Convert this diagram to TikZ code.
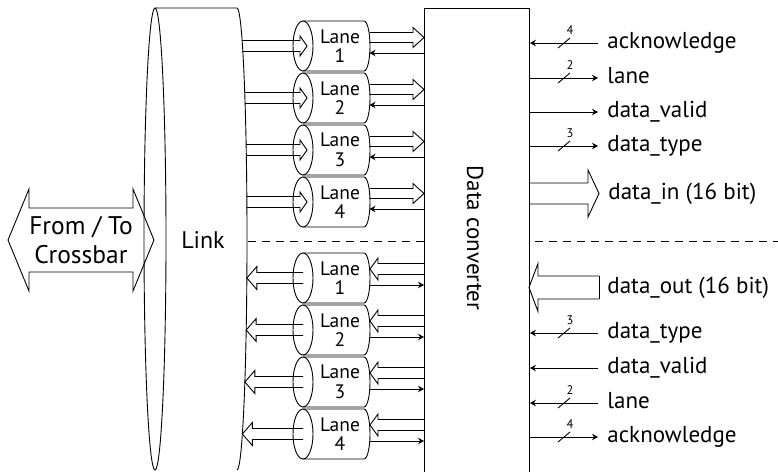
\documentclass[tikz,border=0pt]{standalone}
\usepackage{fontspec}
\setmainfont{PT Sans}
\usetikzlibrary{arrows.meta}
\newcommand\hollowR[6]{% x1, tip x, yc, shaft half, head half, head length
  \draw (#1,#3-#4) -- (#2-#6,#3-#4) -- (#2-#6,#3-#5) -- (#2,#3) -- (#2-#6,#3+#5) -- (#2-#6,#3+#4) -- (#1,#3+#4);}
\newcommand\hollowL[6]{% tip x, x2, yc, shaft half, head half, head length
  \draw (#2,#3-#4) -- (#1+#6,#3-#4) -- (#1+#6,#3-#5) -- (#1,#3) -- (#1+#6,#3+#5) -- (#1+#6,#3+#4) -- (#2,#3+#4);}
\newcommand\lanecyl[3]{% yc, number, name
  \draw (303,#1) ellipse [x radius=10, y radius=25];
  \draw (303,#1-25) -- (364,#1-25) arc [start angle=-90, end angle=90, x radius=6, y radius=25] -- (303,#1+25);
  \node[lanetxt] (#3) at (340,#1) {Lane\\#2};
  \coordinate (#3-r) at (369.5,#1+7);}
\newcommand\upperlane[3]{%
  \lanecyl{#1}{#2}{#3}
  \pgfmathsetmacro\lx{237+10*sqrt(1-((#1-239)/231)^2)}
  \hollowR{\lx}{307}{#1}{5.5}{10}{7}
  \hollowR{369.5}{424}{#1-8.5}{5}{10}{11}
  \draw[thinarr] (conv.west |- #3-r) -- (#3-r);}
\newcommand\lowerlane[3]{%
  \lanecyl{#1}{#2}{#3}
  \pgfmathsetmacro\lx{237+10*sqrt(1-((#1-239)/231)^2)}
  \hollowL{\lx}{303}{#1}{5.5}{11.5}{10}
  \hollowL{370}{424}{#1-9}{5.5}{11}{8}
  \draw[thinarr] (#3-r) -- (conv.west |- #3-r);}
\newcommand\sig[6]{% y, name, text, direction (in/out), bus width, has slash
  \coordinate (#2-e) at (598,#1);
  \node[sigtxt] (#2) at (607,#1) {#3};
  \ifx#4i\draw[thinarr] (#2-e) -- (conv.east |- #2-e);\else\draw[thinarr] (conv.east |- #2-e) -- (#2-e);\fi
  \ifx#6y\draw (558,#1+5) -- (570,#1-5);\node[small] at (570,#1-13) {#5};\fi}
\begin{document}
\begin{tikzpicture}[x=1pt,y=-1pt,line width=0.9pt,
  thinarr/.style={-{Stealth[length=6pt,width=6.5pt,inset=2pt]}},
  lanetxt/.style={align=center,inner sep=0pt,font=\fontsize{19.5}{19.5}\selectfont},
  sigtxt/.style={anchor=west,inner sep=0pt,text height=16pt,text depth=4.5pt,font=\fontsize{23}{25}\selectfont},
  small/.style={inner sep=0pt,font=\fontsize{12.5}{13}\selectfont},
  bigtxt/.style={align=center,inner sep=0pt,font=\fontsize{25.5}{29}\selectfont}]
\useasboundingbox (0,0) rectangle (778,471);
% From / To Crossbar double arrow
\draw (8,240) -- (29,189) -- (29,208) -- (133,208) -- (133,189) -- (154,240) -- (133,291) -- (133,272) -- (29,272) -- (29,291) -- cycle;
\node[bigtxt] (xbar) at (81,240) {From / To\\Crossbar};
% Link cylinder
\draw (155,239) ellipse [x radius=11, y radius=231];
\draw (155,8) -- (237,8) arc [start angle=-90, end angle=90, x radius=10, y radius=231];
\node[bigtxt,font=\fontsize{24}{29}\selectfont] (link) at (203,240) {Link};
% Data converter
\node[draw,inner sep=0pt,minimum width=105pt,minimum height=472pt,anchor=north west] (conv) at (424,8) {};
\node[bigtxt,rotate=-90,font=\fontsize{23}{29}\selectfont] (convtxt) at (475,238) {Data converter};
% dashed separators
\draw[dash pattern=on 8pt off 6pt] (248,241) -- (424,241);
\draw[dash pattern=on 8pt off 6pt] (535,241) -- (778,241);
% lanes
\upperlane{46}{1}{u1}
\upperlane{98}{2}{u2}
\upperlane{150}{3}{u3}
\upperlane{202}{4}{u4}
\lowerlane{278}{1}{d1}
\lowerlane{330}{2}{d2}
\lowerlane{382}{3}{d3}
\lowerlane{434}{4}{d4}
% signals
\sig{43}{s1}{acknowledge}{i}{4}{y}
\sig{78}{s2}{lane}{o}{2}{y}
\sig{112}{s3}{data\_valid}{o}{}{n}
\sig{146}{s4}{data\_type}{o}{3}{y}
\sig{333}{s5}{data\_type}{i}{3}{y}
\sig{368}{s6}{data\_valid}{i}{}{n}
\sig{403}{s7}{lane}{i}{2}{y}
\sig{437}{s8}{acknowledge}{o}{4}{y}
% wide data arrows
\hollowR{529}{599}{193.5}{10.5}{23.5}{11}
\draw (599,276) -- (599,299);
\hollowL{529}{599}{287.5}{11.5}{24}{9}
\node[sigtxt] (din) at (608,193.5) {data\_in (16 bit)};
\node[sigtxt] (dout) at (607,287.5) {data\_out (16 bit)};
\end{tikzpicture}
\end{document}
